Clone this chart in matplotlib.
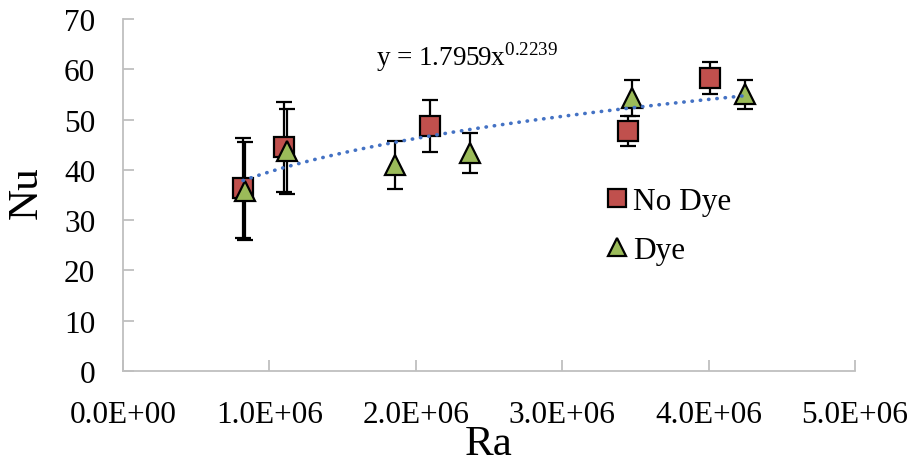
"""
Nu vs Ra scatter with error bars and a power-law trendline
"""

import numpy as np
import matplotlib.pyplot as plt

# data
ra_nodye = [0.82e6, 1.10e6, 2.10e6, 3.45e6, 4.01e6]
nu_nodye = [36.4, 44.5, 48.7, 47.8, 58.2]
err_nodye = [10.0, 9.0, 5.2, 3.0, 3.2]

ra_dye = [0.83e6, 1.12e6, 1.86e6, 2.37e6, 3.48e6, 4.25e6]
nu_dye = [35.8, 43.7, 41.0, 43.3, 54.3, 55.0]
err_dye = [9.7, 8.5, 4.8, 4.0, 3.6, 2.9]

# trendline y = a * x^b shown on the chart
fit_a = 1.7959
fit_b = 0.2239

x_ticks = [0, 1e6, 2e6, 3e6, 4e6, 5e6]
x_tick_labels = ['0.0E+00', '1.0E+06', '2.0E+06', '3.0E+06', '4.0E+06', '5.0E+06']
y_ticks = [0, 10, 20, 30, 40, 50, 60, 70]


def main():
    plt.rcParams['font.family'] = ['Liberation Serif', 'DejaVu Serif']
    plt.rcParams['mathtext.fontset'] = 'custom'
    plt.rcParams['mathtext.rm'] = 'Liberation Serif'

    fig = plt.figure(figsize=(9.15, 4.64), dpi=100)
    ax = fig.add_axes([123 / 915, 92 / 464, 732 / 915, 352 / 464])

    # trendline
    xs = np.linspace(min(ra_nodye + ra_dye), max(ra_nodye + ra_dye), 200)
    ax.plot(xs, fit_a * xs ** fit_b, color='#4472C4', lw=2.6,
            linestyle=(0, (0.1, 2.2)), dash_capstyle='round', zorder=4)

    ax.errorbar(ra_nodye, nu_nodye, yerr=err_nodye, fmt='s', ms=14.5,
                mfc='#C0504D', mec='black', mew=1.6, ecolor='black',
                elinewidth=1.6, capsize=5.5, capthick=1.6,
                label='No Dye', zorder=3)
    ax.errorbar(ra_dye, nu_dye, yerr=err_dye, fmt='^', ms=15,
                mfc='#9BBB59', mec='black', mew=1.6, ecolor='black',
                elinewidth=1.6, capsize=5.5, capthick=1.6,
                label='Dye', zorder=3)

    ax.text(2.35e6, 62.6, r'y = 1.7959x$^{0.2239}$', fontsize=19.5,
            ha='center', va='center')

    ax.set_xlim(0, 5e6)
    ax.set_ylim(0, 70)
    ax.set_xticks(x_ticks)
    ax.set_xticklabels(x_tick_labels)
    ax.set_yticks(y_ticks)
    ax.tick_params(direction='in', length=8, width=1.3, color='#BFBFBF',
                   labelsize=22.5)
    ax.tick_params(axis='y', pad=20)
    ax.tick_params(axis='x', pad=21)

    for side in ['top', 'right']:
        ax.spines[side].set_visible(False)
    for side in ['left', 'bottom']:
        ax.spines[side].set_color('#BFBFBF')
        ax.spines[side].set_linewidth(1.3)

    handles, labels = ax.get_legend_handles_labels()
    handles = [h[0] for h in handles]
    ax.legend(handles, labels, loc='center left', bbox_to_anchor=(0.641, 0.413),
              frameon=False, fontsize=22.5, handlelength=0.6, handletextpad=0.2,
              labelspacing=0.64, borderpad=0, markerscale=0.85)

    fig.text(26 / 915, 1 - 193 / 464, 'Nu', fontsize=31, rotation=90,
             ha='center', va='center')
    fig.text(489 / 915, 1 - 445 / 464, 'Ra', fontsize=31,
             ha='center', va='center')

    fig.savefig('out.png', dpi=100)


if __name__ == "__main__":
    main()
